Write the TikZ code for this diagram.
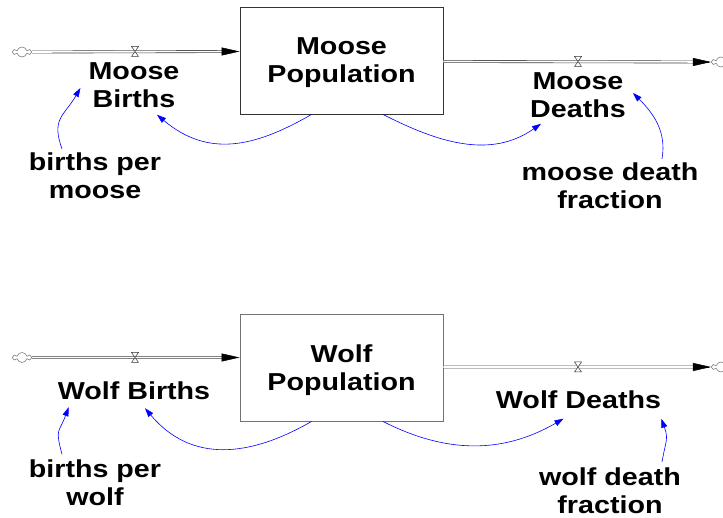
\documentclass[tikz,border=0pt]{standalone}
\usepackage{fontspec}
\setmainfont{Liberation Sans}[FakeStretch=1.17]
\usepackage{tikz}
\usetikzlibrary{arrows.meta, shapes.symbols, calc}

\begin{document}
\begin{tikzpicture}[
    x=1pt, y=-1pt,
    every node/.style={font=\bfseries\fontsize{24.5}{28}\selectfont, inner sep=0pt, align=center},
    stock/.style={draw=#1, line width=0.9pt, minimum width=203pt, minimum height=107pt, text depth=0pt},
    pipe/.style={draw=black!75, double=white, double distance=1.6pt, line width=0.6pt, shorten >=17pt},
    pipetip/.style={black, line width=0.5pt, -{Triangle[length=18pt, width=8pt]}},
    valve/.style={draw=black!80, fill=white, line width=0.5pt},
    sky/.style={cloud, cloud puffs=6, cloud ignores aspect, draw=gray, minimum width=18pt, minimum height=10pt, line width=0.6pt},
    link/.style={blue, line width=0.6pt, -{Triangle[length=9pt, width=6pt]}}
]
    \useasboundingbox (0,0) rectangle (723,518);

    % Stocks
    \node[stock=black!80] (mpop) at (341.5,60.5) {Moose\\Population};
    \node[stock=black!55] (wpop) at (341.5,367.5) {Wolf\\Population};

    % Sources, sinks and valves
    \node[sky] (msrc) at (22,52) {};
    \node[sky] (msnk) at (721,62) {};
    \node[sky] (wsrc) at (22,357.5) {};
    \node[sky] (wsnk) at (721,367) {};
    \coordinate (vmb) at (135,51.5);
    \coordinate (vmd) at (578,61.5);
    \coordinate (vwb) at (135,357.5);
    \coordinate (vwd) at (578,367);

    % Pipes
    \draw[pipe] (msrc.east) -- (mpop.west |- vmb);
    \draw[pipetip] ($(mpop.west |- vmb)+(-2,0)$) -- (mpop.west |- vmb);
    \draw[pipe] (mpop.east |- vmd) -- (msnk.west);
    \draw[pipetip] ($(msnk.west)+(-2,0)$) -- (msnk.west);
    \draw[pipe] (wsrc.east) -- (wpop.west |- vwb);
    \draw[pipetip] ($(wpop.west |- vwb)+(-2,0)$) -- (wpop.west |- vwb);
    \draw[pipe] (wpop.east |- vwd) -- (wsnk.west);
    \draw[pipetip] ($(wsnk.west)+(-2,0)$) -- (wsnk.west);
    \foreach \v in {vmb,vmd,vwb,vwd}
        \draw[valve] ($(\v)+(-3.5,-5)$) -- ++(7,0) -- ++(-7,10) -- ++(7,0) -- cycle;

    % Flow names
    \node (mb) at (134,85) {Moose\\Births};
    \node (md) at (578,95) {Moose\\Deaths};
    \node (wb) at (134,391) {Wolf Births};
    \node (wd) at (578.5,399.5) {Wolf Deaths};

    % Auxiliaries
    \node (bpm) at (95,176) {births per\\moose};
    \node (mdf) at (610,186) {moose death\\fraction};
    \node (bpw) at (95,482.5) {births per\\wolf};
    \node (wdf) at (610,491) {wolf death\\fraction};

    % Links
    \draw[link] ($(bpm.north)+(-33,-4)$) to[out=110, in=240, looseness=1.3] ($(mb.west)+(-8,3)$);
    \draw[link] ($(mpop.south)+(-30,0)$) to[out=210, in=320, looseness=1.1] ($(mb.south)+(23,7)$);
    \draw[link] ($(mpop.south)+(41.5,0)$) to[out=333, in=215] ($(md.south)+(-37,6)$);
    \draw[link] ($(mdf.north)+(52,-4)$) to[out=80, in=315] ($(md.east)+(7,-2)$);
    \draw[link] ($(bpw.north)+(-33,-5)$) to[out=105, in=250, looseness=1.5] ($(wb.south west)+(11,7)$);
    \draw[link] ($(wpop.south)+(-30,0)$) to[out=210, in=310, looseness=1.1] ($(wb.south)+(11,8)$);
    \draw[link] ($(wpop.south)+(41.5,0)$) to[out=333, in=210] ($(wd.south)+(-15,10)$);
    \draw[link] ($(wdf.north)+(52,-6)$) to[out=80, in=290, looseness=1.3] ($(wd.south east)+(0,10)$);
\end{tikzpicture}
\end{document}
